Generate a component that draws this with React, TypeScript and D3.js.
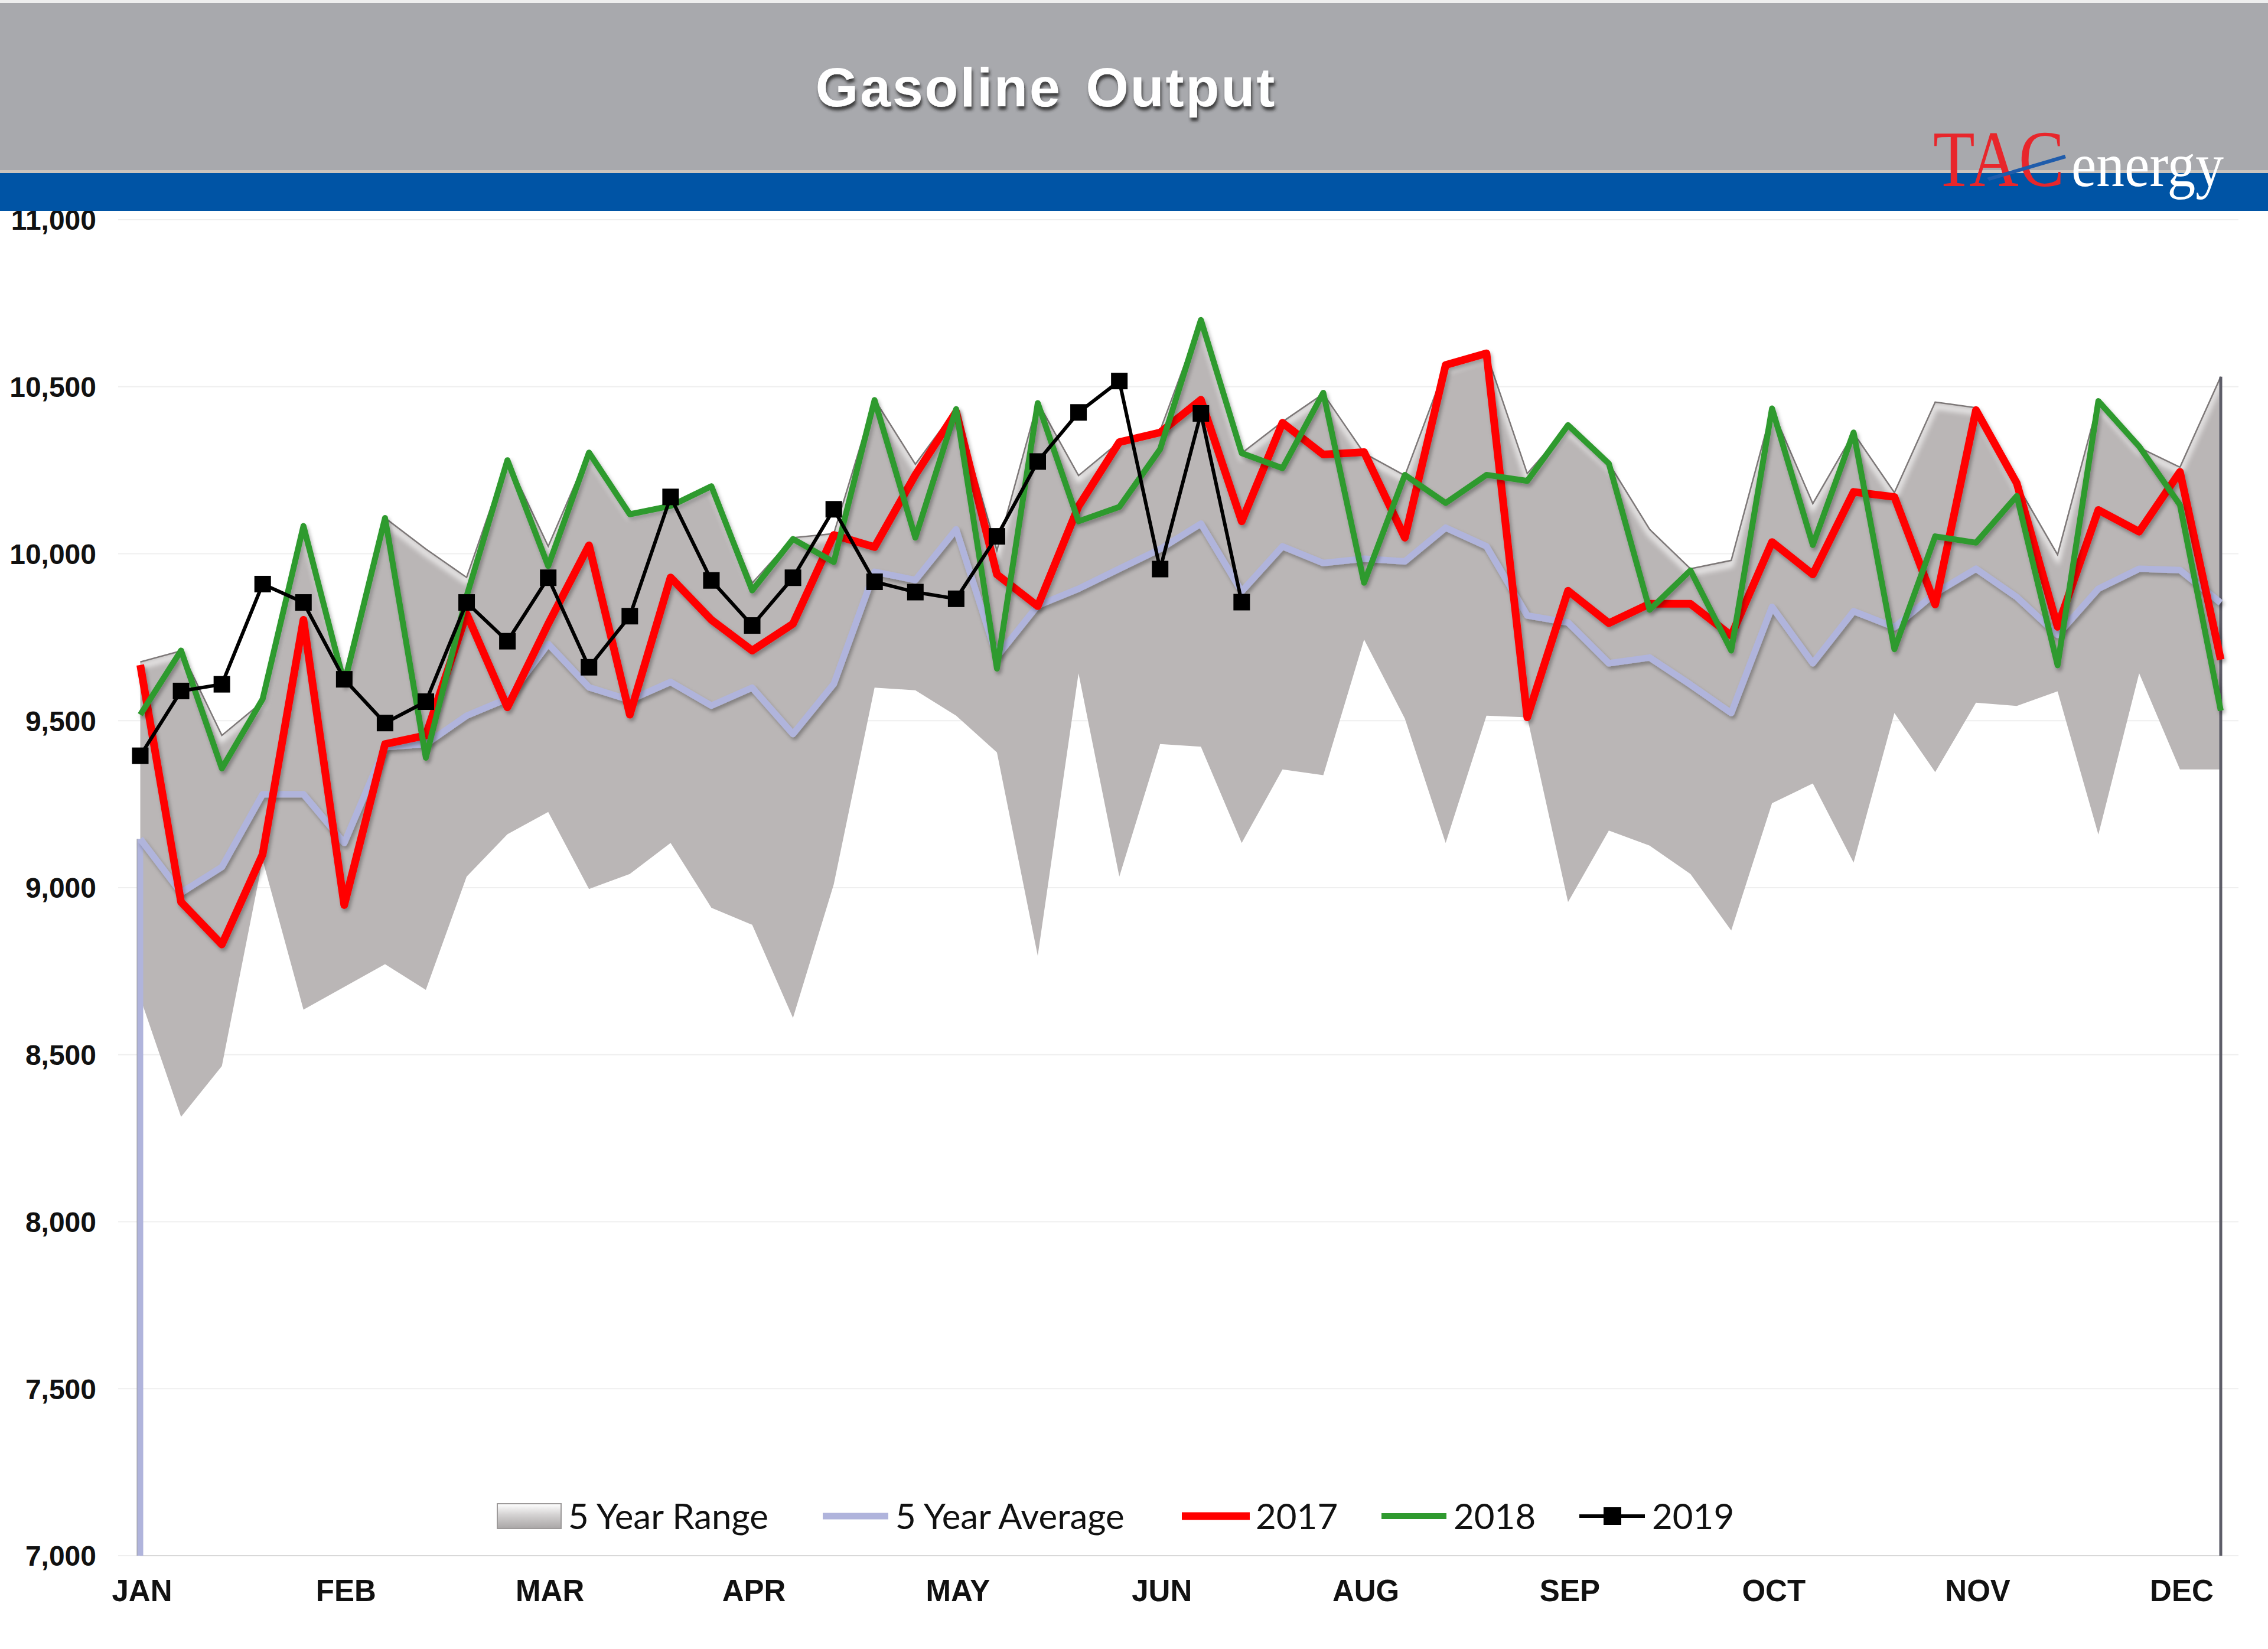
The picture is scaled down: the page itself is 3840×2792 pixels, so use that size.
import * as d3 from "d3";

// weekly gasoline output, kb/d (52 weeks)
const monthLabels = ["JAN", "FEB", "MAR", "APR", "MAY", "JUN", "AUG", "SEP", "OCT", "NOV", "DEC"];
const monthLabelWeeks = [0, 5, 10, 15, 20, 25, 30, 35, 40, 45, 50];
const yTicks = [7000, 7500, 8000, 8500, 9000, 9500, 10000, 10500, 11000];

const rangeMax = [
  9676, 9709, 9456, 9557, 10082, 9640, 10107, 10014, 9929, 10281, 10022, 10305, 10124,
  10149, 10208, 9912, 10048, 10060, 10462, 10268, 10433, 10010, 10454, 10234, 10335, 10369,
  10699, 10301, 10395, 10479, 10301, 10234, 10560, 10600, 10240, 10380, 10271, 10073, 9955,
  9980, 10433, 10150, 10361, 10183, 10454, 10437, 10208, 9997, 10454, 10318, 10259, 10530,
];
const rangeMin = [
  8670, 8314, 8466, 9083, 8635, 8703, 8771, 8694, 9033, 9160, 9227, 8996, 9041,
  9134, 8940, 8889, 8610, 9010, 9599, 9591, 9515, 9405, 8796, 9642, 9033, 9430,
  9422, 9134, 9354, 9337, 9743, 9506, 9134, 9515, 9510, 8957, 9171, 9126, 9041,
  8872, 9253, 9312, 9075, 9523, 9346, 9554, 9544, 9588, 9159, 9642, 9354, 9354,
];
const avg5 = [
  9146, 8985, 9062, 9280, 9280, 9134, 9421, 9430, 9515, 9566, 9730, 9600, 9562,
  9616, 9545, 9599, 9460, 9610, 9946, 9921, 10073, 9692, 9845, 9895, 9955, 10014,
  10090, 9887, 10022, 9972, 9985, 9977, 10078, 10022, 9815, 9794, 9672, 9689, 9608,
  9523, 9841, 9672, 9828, 9780, 9882, 9955, 9870, 9757, 9895, 9955, 9951, 9853,
];
const y2017 = [
  9667, 8957, 8830, 9100, 9802, 8948, 9430, 9456, 9820, 9540, 9790, 10025, 9518,
  9929, 9802, 9710, 9790, 10056, 10020, 10236, 10425, 9938, 9843, 10142, 10334, 10363,
  10461, 10097, 10392, 10297, 10304, 10048, 10565, 10600, 9510, 9889, 9792, 9850, 9850,
  9755, 10035, 9938, 10185, 10170, 9848, 10430, 10211, 9781, 10131, 10066, 10245, 9683,
];
const y2018 = [
  9518, 9710, 9357, 9565, 10083, 9610, 10107, 9389, 9873, 10280, 9963, 10303, 10118,
  10143, 10202, 9890, 10044, 9975, 10460, 10048, 10433, 9656, 10451, 10097, 10140, 10313,
  10700, 10301, 10256, 10482, 9913, 10236, 10152, 10236, 10218, 10385, 10270, 9832, 9950,
  9710, 10435, 10026, 10363, 9714, 10052, 10033, 10173, 9666, 10457, 10321, 10146, 9530,
];
const y2019 = [
  9395, 9589, 9609, 9909, 9854, 9624, 9493, 9557, 9854, 9738, 9928, 9660, 9813,
  10170, 9920, 9785, 9928, 10133, 9916, 9885, 9865, 10052, 10276, 10423, 10517, 9954,
  10420, 9855,
];

const W = 3840;
const H = 2792;
const FONT = "'Liberation Sans', Arial, sans-serif";

const x = d3.scaleLinear().domain([0, 51]).range([237.5, 3760]);
const y = d3.scaleLinear().domain([7000, 11000]).range([2634, 372]);
const fmt = d3.format(",");

const idx = d3.range(rangeMax.length);
const bandPath = d3
  .area<number>()
  .x((i) => x(i))
  .y0((i) => y(rangeMin[i]))
  .y1((i) => y(rangeMax[i]))(idx) as string;
const topEdge = d3
  .line<number>()
  .x((i) => x(i))
  .y((i) => y(rangeMax[i]))(idx) as string;
const lineOf = (vals: number[]) =>
  d3
    .line<number>()
    .x((_, i) => x(i))
    .y((v) => y(v))(vals) as string;

const RED = "#ff0000";
const GREEN = "#2f9a2f";
const LAV = "#b0b4dc";

export default function App() {
  return (
    <div style={{ position: "absolute", left: 0, top: 0 }}>
      <svg width={W} height={H} viewBox={`0 0 ${W} ${H}`} style={{ display: "block", background: "#fff" }}>
        <defs>
          <filter id="shadow" x="-5%" y="-5%" width="110%" height="120%">
            <feDropShadow dx="3" dy="5" stdDeviation="3" floodColor="#000" floodOpacity="0.3" />
          </filter>
          <filter id="blur6">
            <feGaussianBlur stdDeviation="5" />
          </filter>
          <filter id="titleShadow" x="-10%" y="-30%" width="120%" height="160%">
            <feDropShadow dx="2" dy="6" stdDeviation="2.5" floodColor="#2a2a2a" floodOpacity="0.85" />
          </filter>
          <clipPath id="bandClip">
            <path d={bandPath} />
          </clipPath>
          <linearGradient id="swatch" x1="0" y1="0" x2="0" y2="1">
            <stop offset="0" stopColor="#ffffff" />
            <stop offset="0.45" stopColor="#d4d2d2" />
            <stop offset="1" stopColor="#a9a6a6" />
          </linearGradient>
        </defs>

        {/* faint gridlines */}
        {yTicks.map((t) => (
          <line key={t} x1={200} x2={3790} y1={y(t)} y2={y(t)} stroke="#efefef" strokeWidth={2} />
        ))}

        {/* floor shadow along the x axis */}
        <line x1={232} x2={3766} y1={y(7000) - 2} y2={y(7000) - 2} stroke="#bdbdbd" strokeWidth={8} filter="url(#blur6)" />
        <line x1={237} x2={3762} y1={y(7000)} y2={y(7000)} stroke="#d8d8d8" strokeWidth={2} />

        {/* 5 year range band */}
        <path d={bandPath} fill="#bab6b6" />
        <g clipPath="url(#bandClip)">
          <path d={topEdge} transform="translate(0,7)" fill="none" stroke="#fff" strokeWidth={9} opacity={0.75} filter="url(#blur6)" />
        </g>
        <path d={topEdge} fill="none" stroke="#7d7878" strokeWidth={2.5} />

        {/* edges of the area series */}
        <line x1={x(51)} x2={x(51)} y1={y(rangeMax[51])} y2={y(7000)} stroke="#5d5d68" strokeWidth={5} />
        <line x1={x(0) - 5} x2={x(0) - 5} y1={y(avg5[0])} y2={y(7000)} stroke="#9a9a9a" strokeWidth={2} />
        <line x1={x(0)} x2={x(0)} y1={y(avg5[0])} y2={y(7000)} stroke={LAV} strokeWidth={10} />

        {/* series lines */}
        <path d={lineOf(avg5)} fill="none" stroke={LAV} strokeWidth={11} strokeLinejoin="round" filter="url(#shadow)" />
        <path d={lineOf(y2017)} fill="none" stroke={RED} strokeWidth={13} strokeLinejoin="round" filter="url(#shadow)" />
        <path d={lineOf(y2018)} fill="none" stroke={GREEN} strokeWidth={10} strokeLinejoin="round" filter="url(#shadow)" />
        <path d={lineOf(y2019)} fill="none" stroke="#000" strokeWidth={6} strokeLinejoin="round" />
        {y2019.map((v, i) => (
          <rect key={i} x={x(i) - 14} y={y(v) - 14} width={28} height={28} fill="#000" />
        ))}

        {/* y axis labels */}
        {yTicks.map((t) => (
          <text key={t} x={163} y={y(t)} dy="0.36em" textAnchor="end" fontFamily={FONT} fontWeight="bold" fontSize={48} fill="#111">
            {fmt(t)}
          </text>
        ))}

        {/* x axis labels */}
        {monthLabels.map((m, k) => (
          <text key={m} x={x(monthLabelWeeks[k]) + 3} y={2711} textAnchor="middle" fontFamily={FONT} fontWeight="bold" fontSize={51} fill="#111">
            {m}
          </text>
        ))}

        {/* legend */}
        <g fontFamily="Lato, 'Open Sans', sans-serif" fontSize={60} fill="#111">
          <rect x={842} y={2546} width={108} height={42} fill="url(#swatch)" stroke="#9d9a9a" strokeWidth={2} />
          <text x={962} y={2589}>5 Year Range</text>
          <line x1={1393} x2={1504} y1={2567} y2={2567} stroke={LAV} strokeWidth={11} />
          <text x={1516} y={2589}>5 Year Average</text>
          <line x1={2001} x2={2116} y1={2567} y2={2567} stroke={RED} strokeWidth={13} />
          <text x={2126} y={2589}>2017</text>
          <line x1={2339} x2={2449} y1={2567} y2={2567} stroke={GREEN} strokeWidth={10} />
          <text x={2461} y={2589}>2018</text>
          <line x1={2674} x2={2785} y1={2567} y2={2567} stroke="#000" strokeWidth={6} />
          <rect x={2715} y={2552} width={30} height={30} fill="#000" />
          <text x={2797} y={2589}>2019</text>
        </g>

        {/* header */}
        <rect x={0} y={0} width={W} height={6} fill="#eeeeee" />
        <rect x={0} y={5} width={W} height={287} fill="#a8a9ad" />
        <rect x={0} y={288} width={W} height={5} fill="#cbc4bd" />
        <rect x={0} y={293} width={W} height={64} fill="#0054a5" />
        <text x={1771} y={180} textAnchor="middle" fontFamily={FONT} fontWeight="bold" fontSize={93} letterSpacing={3} wordSpacing={12} fill="#fff" filter="url(#titleShadow)">
          Gasoline Output
        </text>

        {/* TAC energy logo */}
        <g>
          <text x={3273} y={315} fontFamily="'Liberation Serif', 'DejaVu Serif', serif" fontSize={136} fill="#e8262b" textLength={222} lengthAdjust="spacingAndGlyphs">
            TAC
          </text>
          <path d="M3364,301 L3496,262 L3498,268 L3368,306 Z" fill="#1f5cab" />
          <text x={3507} y={315} fontFamily="'Liberation Serif', 'DejaVu Serif', serif" fontSize={106} fill="#fff" textLength={258} lengthAdjust="spacingAndGlyphs">
            energy
          </text>
        </g>
      </svg>
    </div>
  );
}
